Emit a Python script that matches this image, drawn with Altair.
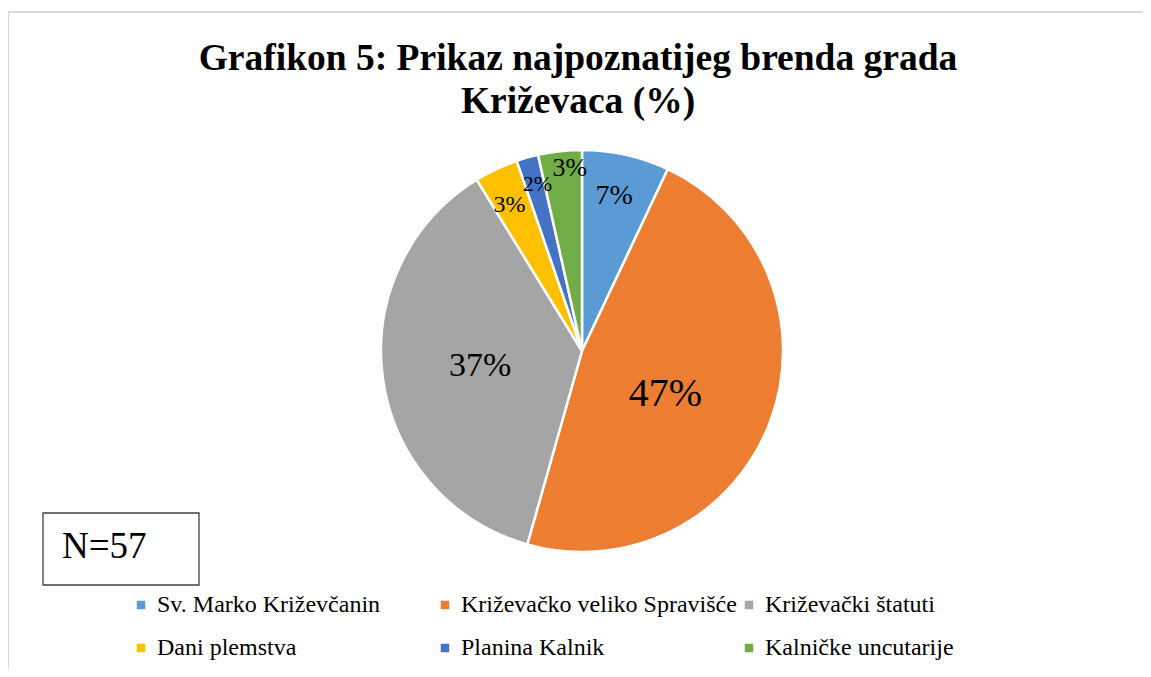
import math
import altair as alt
import pandas as pd

CATEGORIES = [
    "Sv. Marko Križevčanin",
    "Križevačko veliko Spravišće",
    "Križevački štatuti",
    "Dani plemstva",
    "Planina Kalnik",
    "Kalničke uncutarije",
]
COUNTS = [4, 27, 21, 2, 1, 2]
LABELS = ["7%", "47%", "37%", "3%", "2%", "3%"]
COLORS = ["#5B9BD5", "#ED7D31", "#A5A5A5", "#FFC000", "#4472C4", "#70AD47"]
TITLE_LINES = ["Grafikon 5: Prikaz najpoznatijeg brenda grada", "Križevaca (%)"]
N_LABEL = "N=57"

df = pd.DataFrame({
    "cat": CATEGORIES,
    "count": COUNTS,
    "label": LABELS,
    "idx": list(range(len(CATEGORIES))),
})
total = sum(COUNTS)

W, H = 1135, 661
CX, CY = 574, 343
R = 201
FONT = "Liberation Serif"

# label style per slice: (radius, thetaOffset in radians, fontSize)
LABEL_STYLE = [
    (158, -0.015, 28),
    (94, 0.12, 40),
    (103, -0.01, 34),
    (163, -0.02, 24),
    (173, 0.015, 22),
    (183, 0.044, 26),
]

theta_scale = alt.Scale(domain=[0, total], range=[0, 2 * math.pi])

base = (
    alt.Chart(df)
    .transform_window(end="sum(count)", sort=[alt.SortField("idx")], frame=[None, 0])
    .transform_calculate(start="datum.end - datum.count",
                         mid="datum.end - datum.count / 2")
)

pie = base.mark_arc(radius=R, stroke="white", strokeWidth=2.5).encode(
    theta=alt.Theta("start:Q", scale=theta_scale),
    theta2="end:Q",
    color=alt.Color(
        "cat:N",
        sort=CATEGORIES,
        scale=alt.Scale(domain=CATEGORIES, range=COLORS),
        legend=alt.Legend(
            title=None, orient="none", legendX=121, legendY=585,
            direction="horizontal", columns=3, symbolType="square",
            symbolSize=72, symbolStrokeWidth=0, labelFont=FONT,
            labelFontSize=24, labelColor="black", labelLimit=500,
            gridAlign="all", columnPadding=-10, rowPadding=19,
            labelOffset=4, padding=0,
        ),
    ),
    x=alt.value(CX),
    y=alt.value(CY),
)

label_layers = []
for i, (r, off, fs) in enumerate(LABEL_STYLE):
    label_layers.append(
        base.transform_filter(f"datum.idx == {i}")
        .mark_text(radius=r, thetaOffset=off, fontSize=fs, font=FONT,
                   color="black", align="center", baseline="middle")
        .encode(
            theta=alt.Theta("mid:Q", scale=theta_scale),
            text="label:N",
            x=alt.value(CX),
            y=alt.value(CY),
        )
    )

one = alt.Data(values=[{}])

border = alt.Chart(one).mark_rect(
    fill="transparent", stroke="#d9d9d9", strokeWidth=2
).encode(x=alt.value(0), x2=alt.value(W + 20), y=alt.value(4), y2=alt.value(H + 20))

title = alt.Chart(one).mark_text(
    text=TITLE_LINES, font=FONT, fontWeight="bold", fontSize=37.5,
    lineHeight=43, align="center", baseline="alphabetic", color="black"
).encode(x=alt.value(570), y=alt.value(62))

nbox = alt.Chart(one).mark_rect(
    fill="white", stroke="#404040", strokeWidth=1.3
).encode(x=alt.value(35), x2=alt.value(191), y=alt.value(505), y2=alt.value(577))

ntext = alt.Chart(one).mark_text(
    text=N_LABEL, font=FONT, fontSize=37, align="left",
    baseline="alphabetic", color="black"
).encode(x=alt.value(54), y=alt.value(550))

chart = alt.layer(border, title, pie, *label_layers, nbox, ntext).properties(
    width=W, height=H,
    autosize=alt.AutoSizeParams(type="none"),
    padding=0,
    background="white",
).configure(font=FONT).configure_text(font=FONT).configure_view(stroke=None)

chart.save("out.html", embed_options={"renderer": "svg", "actions": False})
